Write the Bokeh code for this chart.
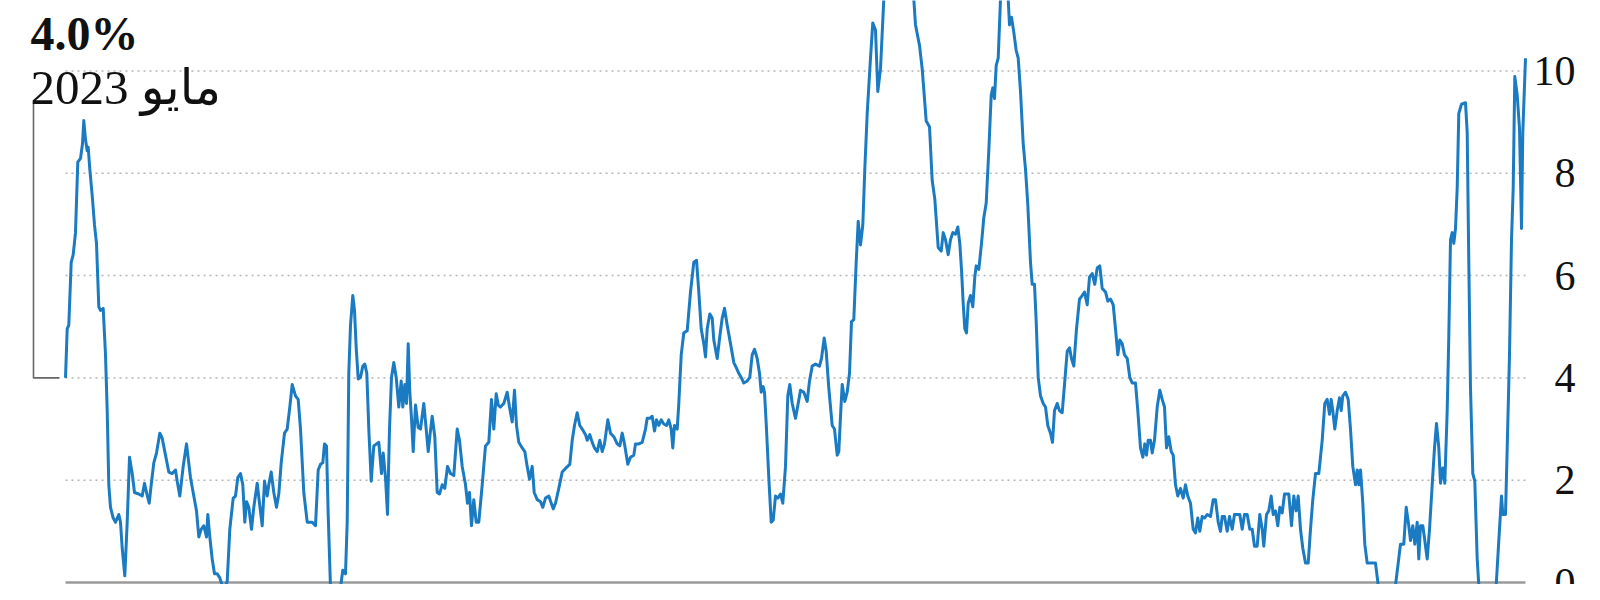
from bokeh.plotting import figure
from bokeh.models import Range1d
from bokeh.core.properties import value
from bokeh.embed import file_html
from bokeh.resources import INLINE

# time position (horizontal step) and value (%)
t = [65, 66.7, 68.3, 70.7, 72.7, 75, 77.3, 80, 82, 83.3, 85, 86.7, 87.7, 89.3, 91.7, 94, 96, 98.3, 100, 102.7,
     105, 106.7, 108.3, 110, 112.7, 115, 118.3, 120, 121.7, 124.3, 126.7, 129, 131.7, 134, 138.3, 141.7, 144, 146,
     148.7, 150.7, 153.3, 156, 159.3, 161.7, 165, 168.3, 171.7, 175, 176.7, 179.3, 182.7, 186, 190, 193.3, 196,
     198.3, 200.7, 203.3, 206, 207.3, 209.3, 211.7, 214, 216.7, 219.3, 223.3, 226.7, 229.3, 232.7, 235, 237.3, 240,
     242.3, 244.3, 246, 248.3, 251, 253.3, 256.7, 259, 261.7, 264, 266.7, 268.3, 270.7, 273.3, 276, 278.3, 280.7,
     284, 286.7, 289.3, 291.7, 295, 297.7, 300, 303.3, 306.7, 311.7, 315, 317.7, 320, 322.3, 324, 326, 327.7, 330,
     335, 340, 342.3, 345, 346.7, 348.3, 350, 352.3, 354, 355.7, 357.7, 360, 362.3, 364.3, 366.3, 368.3, 370.7,
     373.3, 376, 378.3, 381, 382.7, 385, 387, 389, 391, 393.3, 395.7, 398.3, 400.7, 402.3, 404.3, 406, 407.7, 409.3,
     411, 412.7, 415, 417.7, 420, 423.3, 425.7, 427.7, 429.7, 431.7, 434.3, 436.7, 439, 441.7, 444.3, 447, 450,
     453.3, 456.7, 459, 461.7, 465, 467, 469, 471, 473.3, 475.7, 478.3, 481.7, 485, 488.3, 491, 493.3, 495.7, 497.7,
     500, 503.3, 506.7, 509, 511.7, 514, 516, 518.3, 521.7, 524.3, 526.7, 529, 531.7, 533.7, 536.7, 540, 542.3, 545,
     548.3, 552.7, 555, 558.3, 561.7, 565, 569.3, 571.7, 574, 576.7, 579.3, 581.7, 585, 586.7, 589.3, 591.7, 594,
     596.7, 599.3, 601.7, 604, 607.3, 610, 613.3, 616.7, 619.3, 621.7, 624, 627.3, 630, 633.3, 635, 638.3, 641.7,
     645, 646.7, 649.3, 651.7, 654, 656, 658.3, 660.7, 663.3, 666, 668.3, 670.7, 672.3, 674, 676.7, 678.3, 680.7,
     683.3, 686.7, 690, 693.3, 696, 698.3, 700.7, 703.3, 705, 706.7, 709.3, 711.7, 713.3, 716.7, 719.3, 721.7, 724,
     726.7, 730, 733.3, 736, 738.3, 740.7, 743.3, 746.7, 749.3, 751.7, 754, 756.7, 759, 760.7, 762.7, 764, 766,
     768.3, 770.7, 772.7, 775, 777.3, 780, 782.3, 785, 787.3, 789.3, 791.7, 795, 797.7, 800, 803.3, 806.7, 809,
     811.7, 815, 819, 821, 823.7, 825.7, 828.3, 831.7, 834, 836.7, 838.3, 840.3, 841.7, 844.3, 846.7, 849, 851,
     853.3, 855.7, 857.7, 860, 862.3, 864.3, 866.7, 870, 872.3, 875, 877.3, 880, 883.3, 890, 898, 906, 913.3, 915,
     919, 921.7, 925.7, 929, 931.7, 934.3, 937.7, 940.7, 942.7, 945, 947.7, 950, 952.3, 955, 957.3, 959.3, 961,
     962.7, 964.3, 966, 967.7, 970, 972.3, 974.3, 975.7, 978.3, 981, 983.3, 985.7, 988.3, 990.7, 992.3, 994, 995.7,
     997.7, 1000, 1004, 1007.7, 1009, 1011, 1013.3, 1015.7, 1017.7, 1020, 1022.7, 1025, 1027.3, 1030, 1031.7, 1034,
     1035.7, 1037.7, 1040, 1042.7, 1045, 1047.3, 1050, 1052, 1054, 1056.7, 1059, 1061.7, 1064, 1066.7, 1069, 1071,
     1073.3, 1076, 1079, 1081.7, 1084, 1086.7, 1089, 1091.7, 1094.3, 1096.7, 1099.3, 1101.7, 1105, 1107.3, 1110,
     1112.7, 1115, 1117.3, 1119.3, 1121.7, 1124, 1126.7, 1129.3, 1131.7, 1135, 1137.3, 1140, 1142.3, 1144.3, 1146,
     1147.7, 1150, 1151.7, 1154, 1156.7, 1159.3, 1161.7, 1164, 1166, 1168.3, 1170.7, 1172.7, 1175, 1177.3, 1180,
     1182.7, 1185, 1187.3, 1190, 1192.7, 1195, 1197.3, 1199.3, 1201.7, 1204, 1206.7, 1210, 1212.7, 1215, 1217.7,
     1220, 1221.7, 1224, 1226.7, 1229, 1231.7, 1234, 1236.7, 1239.3, 1241.7, 1244, 1246.7, 1249.3, 1251.7, 1254,
     1256.7, 1259.3, 1261.7, 1263.3, 1266, 1268.3, 1270.7, 1272.7, 1275, 1277.3, 1279.3, 1281.7, 1284, 1288.3,
     1291, 1293.3, 1295.7, 1297.7, 1300, 1302.3, 1305, 1307.7, 1310, 1312.3, 1315, 1318.3, 1321.7, 1324.3, 1326.7,
     1329, 1330.7, 1332.3, 1334.3, 1336.7, 1339, 1340.7, 1342.3, 1345, 1347.7, 1350, 1352.3, 1355, 1356.7, 1358.3,
     1360, 1362.3, 1364.3, 1366.7, 1375, 1377.7, 1386, 1395, 1397.7, 1400, 1403.3, 1405.7, 1408.3, 1410, 1412.3,
     1414.3, 1416.7, 1418.3, 1420, 1422.3, 1424.3, 1426.7, 1429, 1431.7, 1434, 1436, 1438.3, 1440, 1442.3, 1444.3,
     1446.7, 1448.3, 1450, 1451.7, 1453.3, 1455, 1456.7, 1458.3, 1461, 1465, 1466.7, 1468.3, 1470, 1472.3, 1474.3,
     1476.7, 1478.3, 1487, 1495.7, 1498.3, 1501, 1502.3, 1505, 1506.7, 1509, 1511, 1512.7, 1514.3, 1516.7, 1519,
     1521, 1522.3, 1525]

rate = [4.0, 4.96, 5.03, 6.26, 6.41, 6.84, 8.22, 8.29, 8.58, 9.03, 8.66, 8.44, 8.51, 8.08, 7.57, 6.99, 6.63, 5.39, 5.32, 5.36,
        4.45, 3.36, 1.91, 1.47, 1.26, 1.18, 1.33, 1.18, 0.67, 0.13, 1.18, 2.45, 2.13, 1.76, 1.73, 1.69, 1.94, 1.76,
        1.55, 1.91, 2.34, 2.53, 2.92, 2.82, 2.49, 2.16, 2.13, 2.2, 1.98, 1.69, 2.27, 2.71, 2.05, 1.69, 1.4,
        0.89, 1.04, 1.11, 0.89, 1.33, 0.89, 0.46, 0.17, 0.17, 0.09, -0.15, 0.02, 1.04, 1.65, 1.69, 2.05, 2.13,
        1.91, 1.18, 1.58, 1.47, 1.04, 1.47, 1.94, 1.55, 1.11, 1.98, 1.69, 1.91, 2.16, 1.76, 1.47, 1.73, 2.34,
        2.92, 3.0, 3.43, 3.87, 3.65, 3.58, 3.0, 1.76, 1.18, 1.18, 1.11, 2.2, 2.31, 2.34, 2.71, 2.67, 1.33, -0.1,
        -0.6, -0.1, 0.24, 0.17, 1.18, 4.09, 5.03, 5.61, 5.32, 4.59, 3.98, 4.01, 4.23, 4.27, 4.09, 3.0, 1.98,
        2.67, 2.71, 2.74, 2.13, 2.53, 2.05, 1.33, 3.0, 4.01, 4.3, 4.01, 3.43, 3.94, 3.43, 3.87, 3.5, 4.67, 3.72,
        3.21, 2.56, 3.47, 3.03, 3.0, 3.5, 3.0, 2.56, 2.92, 3.25, 2.85, 1.76, 1.73, 1.91, 1.84, 2.27, 2.13,
        2.09, 3.0, 2.78, 2.27, 1.91, 1.55, 1.76, 1.11, 1.62, 1.18, 1.18, 1.91, 2.67, 2.74, 3.58, 3.0, 3.69, 3.47,
        3.43, 3.5, 3.72, 3.43, 3.14, 3.76, 3.07, 2.74, 2.63, 2.56, 2.27, 2.02, 2.27, 1.76, 1.62, 1.58, 1.47, 1.65,
        1.69, 1.44, 1.55, 1.84, 2.16, 2.23, 2.31, 2.78, 3.07, 3.32, 3.07, 3.0, 2.89, 2.78, 2.89, 2.74, 2.63,
        2.56, 2.78, 2.56, 2.71, 3.18, 2.92, 2.85, 2.71, 2.67, 2.92, 2.71, 2.31, 2.45, 2.49, 2.71, 2.71, 2.74,
        3.0, 3.21, 3.21, 3.25, 2.96, 3.18, 3.07, 3.18, 3.1, 3.07, 3.18, 3.0, 2.63, 3.07, 3.0, 3.5, 4.45,
        4.88, 4.92, 5.68, 6.26, 6.3, 5.68, 4.96, 4.67, 4.41, 4.96, 5.25, 5.17, 4.74, 4.38, 4.81, 5.17, 5.36,
        5.03, 4.67, 4.3, 4.19, 4.09, 4.01, 3.9, 3.94, 4.01, 4.45, 4.56, 4.38, 4.09, 3.72, 3.83, 3.72, 3.0,
        2.05, 1.18, 1.22, 1.69, 1.65, 1.73, 1.55, 2.27, 3.65, 3.87, 3.5, 3.21, 3.5, 3.76, 3.72, 3.54, 3.94,
        4.23, 4.27, 4.23, 4.38, 4.78, 4.52, 3.8, 3.07, 3.0, 2.49, 2.56, 3.36, 3.87, 3.54, 3.72, 4.09, 5.1,
        5.14, 6.26, 7.06, 6.6, 6.99, 8.08, 9.17, 10.25, 10.94, 10.8, 9.6, 10.04, 11.4, 12.6, 13.2, 12.5, 11.4, 10.9,
        10.5, 10.04, 9.02, 8.91, 7.86, 7.5, 6.55, 6.48, 6.84, 6.7, 6.41, 6.7, 6.84, 6.81, 6.95, 6.63, 6.12,
        5.46, 4.96, 4.88, 5.46, 5.61, 5.39, 5.97, 6.19, 6.12, 6.63, 7.13, 7.42, 8.44, 9.53, 9.67, 9.46, 10.11,
        10.25, 11.4, 12.0, 11.4, 10.9, 11.05, 10.76, 10.4, 10.25, 9.6, 8.58, 8.08, 7.39, 6.26, 5.83, 5.83,
        5.1, 4.01, 3.65, 3.5, 3.43, 3.07, 2.92, 2.74, 3.36, 3.5, 3.36, 3.32, 3.87, 4.52, 4.59, 4.38,
        4.23, 4.96, 5.54, 5.61, 5.68, 5.43, 5.97, 6.04, 5.83, 6.15, 6.19, 5.75, 5.68, 5.5, 5.54,
        5.43, 4.96, 4.45, 4.74, 4.67, 4.45, 4.38, 4.01, 3.9, 3.9, 3.36, 2.63, 2.45, 2.71, 2.49,
        2.78, 2.78, 2.53, 2.78, 3.43, 3.76, 3.58, 3.43, 2.63, 2.85, 2.56, 2.49, 1.91, 1.69, 1.84,
        1.65, 1.91, 1.69, 1.55, 1.04, 0.97, 1.26, 1.0, 1.29, 1.26, 1.33, 1.29, 1.62, 1.62, 1.18,
        1.0, 1.29, 1.29, 1.0, 1.29, 1.04, 1.33, 1.33, 1.33, 1.04, 1.33, 1.33, 1.04, 1.04, 0.71,
        0.71, 1.33, 1.04, 0.71, 1.33, 1.4, 1.69, 1.33, 1.4, 1.11, 1.47, 1.36, 1.73, 1.73,
        1.11, 1.69, 1.4, 1.69, 1.04, 0.67, 0.38, 0.38, 1.04, 1.62, 2.13, 2.13, 2.78, 3.5, 3.58,
        3.29, 3.58, 3.36, 3.0, 3.36, 3.61, 3.36, 3.65, 3.72, 3.58, 3.0, 2.27, 1.91, 2.2, 1.91,
        2.2, 1.55, 0.75, 0.38, 0.38, -0.05, -0.8, -0.05, 0.38, 0.75, 0.75, 1.47, 1.11, 0.82, 1.11,
        0.75, 1.18, 0.46, 1.11, 1.11, 0.82, 0.46, 1.04, 1.91, 2.63, 3.11, 2.63, 1.94, 2.24, 1.94,
        3.36, 4.81, 6.7, 6.84, 6.63, 6.92, 7.71, 9.17, 9.35, 9.38, 8.8, 6.26, 3.8, 2.13, 1.98,
        0.46, -0.05, -1.0, -0.05, 0.82, 1.69, 1.33, 1.33, 2.63, 4.45, 6.7, 7.71, 9.89, 9.53, 8.88,
        6.92, 8.8, 10.25]

tick_values = [0, 2, 4, 6, 8, 10]
tick_labels = ["0", "2", "4", "6", "8", "10"]
grid_values = [2, 4, 6, 8, 10]

start_label = "4.0%"
start_date = "مايو 2023"

assert len(t) == len(rate)

W, H = 1584, 584
p = figure(width=W, height=H, output_backend="svg", toolbar_location=None,
           x_axis_location=None, y_axis_location=None,
           x_range=Range1d(0, 1584), y_range=Range1d(-0.039, 11.378),
           min_border=0, min_border_left=0, min_border_right=0,
           min_border_top=0, min_border_bottom=0)
p.outline_line_color = None
p.xgrid.visible = False
p.ygrid.visible = False
p.background_fill_color = "white"
p.border_fill_color = "white"

x0, x1 = t[0], t[-1]

# dotted horizontal grid
p.segment(x0=[x0] * len(grid_values), y0=grid_values, x1=[x1] * len(grid_values), y1=grid_values,
          line_color="#b5b5b5", line_width=1.5, line_dash="2 4")
# zero baseline
p.segment(x0=[x0], y0=[0], x1=[x1], y1=[0], line_color="#9a9a9a", line_width=2.5)

# leader from label to first point
p.line(x=[33, 33, 59], y=[9.36, rate[0], rate[0]], line_color="#666666", line_width=1.6)

# main series
p.line(x=t, y=rate, line_color="#1b7bc2", line_width=3.0, line_join="round")

serif = value("Liberation Serif, DejaVu Sans, serif")

# right-hand tick labels
p.text(x=[1575] * len(tick_values), y=tick_values, text=tick_labels,
       text_font=serif, text_font_size="42px", text_color="#111111",
       text_align="right", text_baseline="middle")

# start annotation
p.text(x=[30], y=[10.74], text=[start_label], text_font=serif, text_font_size="48px",
       text_font_style="bold", text_color="#111111", text_align="left", text_baseline="alphabetic")
p.text(x=[30], y=[9.68], text=[start_date], text_font=serif, text_font_size="49px",
       text_color="#111111", text_align="left", text_baseline="alphabetic")

open("out.html", "w").write(file_html(p, INLINE))
